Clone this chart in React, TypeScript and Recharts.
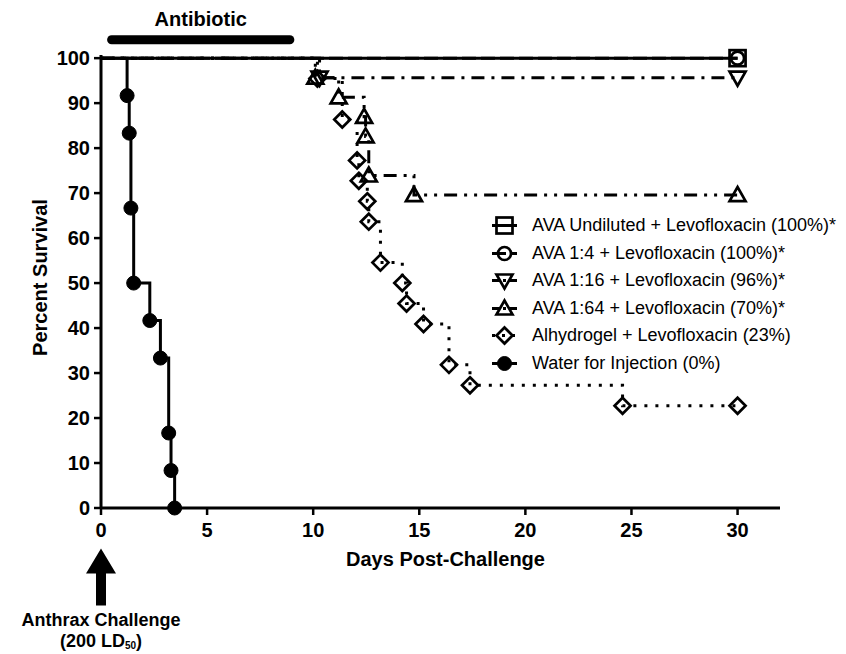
import React from 'react';
import { LineChart, Line, XAxis, YAxis, ReferenceLine, ReferenceDot, Legend } from 'recharts';

// ---- data ----
const xTicks = [0, 5, 10, 15, 20, 25, 30];
const yTicks = [0, 10, 20, 30, 40, 50, 60, 70, 80, 90, 100];

const undilutedDays = [0, 30];
const undilutedSurvival = [100, 100];

const ava4Days = [0, 30];
const ava4Survival = [100, 100];

const ava16Days = [0, 10.3, 30];
const ava16Survival = [100, 95.65, 95.65];

const ava64Days = [0, 10.1, 11.2, 12.4, 12.47, 12.62, 14.75, 30];
const ava64Survival = [100, 95.65, 91.3, 86.96, 82.61, 73.91, 69.57, 69.57];

const alhyDays = [0, 10.2, 11.37, 12.07, 12.15, 12.55, 12.62, 13.17, 14.2, 14.4, 15.2, 16.4, 17.39, 24.58, 30];
const alhySurvival = [100, 95.45, 86.36, 77.27, 72.73, 68.18, 63.64, 54.55, 50, 45.45, 40.91, 31.82, 27.27, 22.73, 22.73];

const waterDays = [0, 1.23, 1.33, 1.41, 1.54, 2.3, 2.8, 3.19, 3.3, 3.47];
const waterSurvival = [100, 91.67, 83.33, 66.67, 50, 41.67, 33.33, 16.67, 8.33, 0];

const antibioticStart = 0.5;
const antibioticEnd = 8.9;
const antibioticLevel = 104.1;
const challengeDay = 0;
const challengeLevel = -9.0;

const seriesNames = [
  'AVA Undiluted + Levofloxacin (100%)*',
  'AVA 1:4 + Levofloxacin (100%)*',
  'AVA 1:16 + Levofloxacin (96%)*',
  'AVA 1:64 + Levofloxacin (70%)*',
  'Alhydrogel + Levofloxacin (23%)',
  'Water for Injection (0%)',
];

const toRows = (days: number[], surv: number[]) => days.map((d, i) => ({ day: d, surv: surv[i] }));

type Shape = 'square' | 'circle' | 'triDown' | 'triUp' | 'diamond' | 'dot';

const series: { name: string; data: any[]; shape: Shape; dash?: string }[] = [
  { name: seriesNames[5], data: toRows(waterDays, waterSurvival), shape: 'dot' },
  { name: seriesNames[4], data: toRows(alhyDays, alhySurvival), shape: 'diamond', dash: '3 8' },
  { name: seriesNames[3], data: toRows(ava64Days, ava64Survival), shape: 'triUp', dash: '13 7 3 7 3 7' },
  { name: seriesNames[2], data: toRows(ava16Days, ava16Survival), shape: 'triDown', dash: '13 7 3 7' },
  { name: seriesNames[1], data: toRows(ava4Days, ava4Survival), shape: 'circle', dash: '14 5' },
  { name: seriesNames[0], data: toRows(undilutedDays, undilutedSurvival), shape: 'square' },
];

const SW = 2.7;

function marker(shape: Shape, cx: number, cy: number, key?: any) {
  switch (shape) {
    case 'square':
      return <rect key={key} x={cx - 8} y={cy - 8} width={16} height={16} fill="none" stroke="#000" strokeWidth={SW} />;
    case 'circle':
      return <circle key={key} cx={cx} cy={cy} r={6.5} fill="none" stroke="#000" strokeWidth={SW} />;
    case 'triDown':
      return <polygon key={key} points={`${cx - 8},${cy - 6} ${cx + 8},${cy - 6} ${cx},${cy + 8}`} fill="none" stroke="#000" strokeWidth={SW} strokeLinejoin="miter" />;
    case 'triUp':
      return <polygon key={key} points={`${cx - 8},${cy + 6} ${cx + 8},${cy + 6} ${cx},${cy - 8}`} fill="none" stroke="#000" strokeWidth={SW} strokeLinejoin="miter" />;
    case 'diamond':
      return <polygon key={key} points={`${cx},${cy - 8} ${cx + 8},${cy} ${cx},${cy + 8} ${cx - 8},${cy}`} fill="none" stroke="#000" strokeWidth={SW} />;
    case 'dot':
    default:
      return <circle key={key} cx={cx} cy={cy} r={7} fill="#000" stroke="#000" strokeWidth={1} />;
  }
}

const makeDot = (shape: Shape) => (props: any) => {
  const { cx, cy, index } = props;
  if (index === 0 || cx == null || cy == null) return <g key={`d-${shape}-${index}`} />;
  return marker(shape, cx, cy, `d-${shape}-${index}`);
};

const legendOrder: Shape[] = ['square', 'circle', 'triDown', 'triUp', 'diamond', 'dot'];
const legendDash: (string | undefined)[] = [undefined, '14 5', '8 3 3 3', '8 3 3 3', '3 7', undefined];

const LegendContent = () => (
  <div style={{ fontFamily: '"Liberation Sans", Arial, sans-serif', fontSize: 18, color: '#000' }}>
    {seriesNames.map((n, i) => (
      <div key={n} style={{ display: 'flex', alignItems: 'center', height: 27.5, whiteSpace: 'nowrap' }}>
        <svg width={52} height={27} style={{ flex: 'none' }}>
          <line x1={12} y1={13.5} x2={37} y2={13.5} stroke="#000" strokeWidth={3} strokeDasharray={legendDash[i]} />
          {marker(legendOrder[i], 24.5, 13.5)}
        </svg>
        <span>{n}</span>
      </div>
    ))}
  </div>
);

const ArrowShape = (props: any) => {
  const { cx, cy } = props;
  return (
    <g>
      <polygon
        points={`${cx},${cy} ${cx + 15},${cy + 25} ${cx + 5},${cy + 25} ${cx + 5},${cy + 57} ${cx - 5},${cy + 57} ${cx - 5},${cy + 25} ${cx - 15},${cy + 25}`}
        fill="#000"
      />
      <text x={cx} y={cy + 78} textAnchor="middle" fontSize={18} fontWeight="bold" fill="#000">
        Anthrax Challenge
      </text>
      <text x={cx} y={cy + 98.5} textAnchor="middle" fontSize={18} fontWeight="bold" fill="#000">
        (200 LD
        <tspan fontSize={10} dy={2.5}>50</tspan>
        <tspan dy={-2.5}>)</tspan>
      </text>
    </g>
  );
};

const AntibioticLabel = (props: any) => {
  const { cx, cy } = props;
  return (
    <text x={cx} y={cy - 14} textAnchor="middle" fontSize={20} fontWeight="bold" fill="#000">
      Antibiotic
    </text>
  );
};

const YTitle = (props: any) => {
  const vb = props.viewBox || { x: 0, y: 50, width: 93, height: 450 };
  const cx = 39;
  const cy = vb.y + vb.height / 2 - 4;
  return (
    <text x={cx} y={cy} transform={`rotate(-90, ${cx}, ${cy})`} textAnchor="middle" fontSize={20} fontWeight="bold" fill="#000">
      Percent Survival
    </text>
  );
};

const XTitle = (props: any) => {
  const vb = props.viewBox || { x: 93, y: 500, width: 679, height: 30 };
  return (
    <text x={vb.x + vb.width / 2 + 5} y={vb.y + 58} textAnchor="middle" fontSize={20} fontWeight="bold" fill="#000">
      Days Post-Challenge
    </text>
  );
};

export default function App() {
  return (
    <LineChart
      width={838}
      height={646}
      margin={{ top: 47, right: 66, bottom: 116, left: 0 }}
      style={{ fontFamily: '"Liberation Sans", Arial, sans-serif' }}
    >
      <XAxis
        type="number"
        dataKey="day"
        domain={[0, 32]}
        ticks={xTicks}
        allowDuplicatedCategory={false}
        height={30}
        tickSize={7}
        tickMargin={8}
        axisLine={{ stroke: '#000', strokeWidth: 3 }}
        tickLine={{ stroke: '#000', strokeWidth: 2.5 }}
        tick={{ fill: '#000', fontSize: 20, fontWeight: 'bold' }}
        label={<XTitle />}
      />
      <YAxis
        type="number"
        domain={[0, 100.7]}
        ticks={yTicks}
        width={93}
        tickSize={7}
        tickMargin={4}
        axisLine={{ stroke: '#000', strokeWidth: 3 }}
        tickLine={{ stroke: '#000', strokeWidth: 2.5 }}
        tick={{ fill: '#000', fontSize: 20, fontWeight: 'bold' }}
        label={<YTitle />}
      />
      {series.map((s) => (
        <Line
          key={s.name}
          data={s.data}
          dataKey="surv"
          name={s.name}
          type="stepAfter"
          stroke="#000"
          strokeWidth={3}
          strokeDasharray={s.dash}
          dot={makeDot(s.shape)}
          activeDot={false}
          isAnimationActive={false}
          legendType="none"
        />
      ))}
      <ReferenceLine
        segment={[
          { x: antibioticStart, y: antibioticLevel },
          { x: antibioticEnd, y: antibioticLevel },
        ]}
        stroke="#000"
        strokeWidth={9}
        strokeLinecap="round"
        ifOverflow="visible"
      />
      <ReferenceDot
        x={(antibioticStart + antibioticEnd) / 2}
        y={antibioticLevel}
        ifOverflow="visible"
        shape={<AntibioticLabel />}
      />
      <ReferenceDot x={challengeDay} y={challengeLevel} ifOverflow="visible" shape={<ArrowShape />} />
      <Legend
        layout="vertical"
        align="center"
        verticalAlign="middle"
        content={<LegendContent />}
        wrapperStyle={{ left: 472, top: 204, width: 366 }}
      />
    </LineChart>
  );
}
